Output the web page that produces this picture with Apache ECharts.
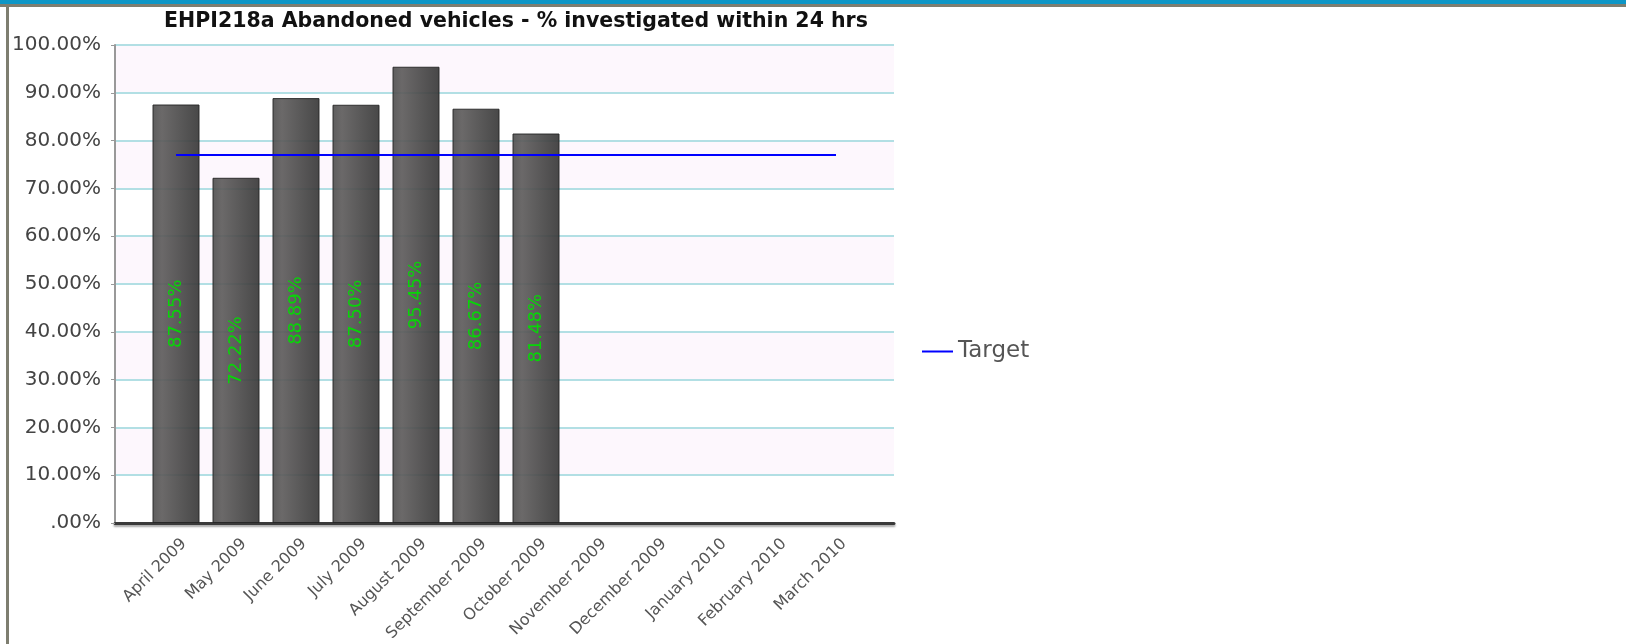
<!DOCTYPE html>
<html>
<head>
<meta charset="utf-8">
<script src="https://cdn.jsdelivr.net/npm/echarts@6/dist/echarts.min.js"></script>
<style>
  html, body { margin: 0; padding: 0; background: #fff; }
  #main { width: 1626px; height: 644px; }
</style>
</head>
<body>
<div id="main"></div>
<script>
// 数据
const months = ['April 2009', 'May 2009', 'June 2009', 'July 2009', 'August 2009', 'September 2009',
  'October 2009', 'November 2009', 'December 2009', 'January 2010', 'February 2010', 'March 2010'];
const actual = [87.55, 72.22, 88.89, 87.50, 95.45, 86.67, 81.48, null, null, null, null, null];
const target = [77, 77, 77, 77, 77, 77, 77, 77, 77, 77, 77, 77];
const yTicks = ['.00%', '10.00%', '20.00%', '30.00%', '40.00%', '50.00%', '60.00%', '70.00%', '80.00%', '90.00%', '100.00%'];

const font = 'DejaVu Sans';
const myChart = echarts.init(document.getElementById('main'));

myChart.setOption({
  animation: false,
  title: {
    text: 'EHPI218a Abandoned vehicles - % investigated within 24 hrs',
    left: 511,
    top: 6,
    textAlign: 'center',
    textStyle: { fontFamily: font, fontWeight: 'bold', fontSize: 20.5, color: '#111' },
  },
  legend: {
    left: 917,
    top: 335,
    itemWidth: 31,
    itemHeight: 2,
    itemGap: 6,
    data: [{ name: 'Target', icon: 'rect' }],
    textStyle: { fontFamily: font, fontSize: 23, color: '#555' },
  },
  graphic: [
    { type: 'rect', shape: { x: 0, y: 0, width: 1626, height: 4 }, style: { fill: '#0d96c6' } },
    { type: 'rect', shape: { x: 0, y: 4, width: 1626, height: 3 }, style: { fill: '#7e7e70' } },
    { type: 'rect', shape: { x: 6, y: 4, width: 3, height: 640 }, style: { fill: '#7e7e70' } },
  ],
  grid: [
    { left: 115, top: 45, width: 779, height: 478 },
    { left: 146, top: 45, width: 720, height: 478 },
    // 标签稍微右移
    { left: 154, top: 45, width: 720, height: 478 },
  ],
  xAxis: [
    {
      gridIndex: 0, type: 'value', min: 0, max: 1,
      axisLine: { show: true, onZero: false, lineStyle: { color: '#3a3a3a', width: 3, shadowColor: 'rgba(0,0,0,0.35)', shadowOffsetY: 2, shadowBlur: 2 } },
      axisTick: { show: false }, axisLabel: { show: false }, splitLine: { show: false },
    },
    {
      gridIndex: 1, type: 'category', data: months,
      axisLine: { show: false }, axisTick: { show: false }, axisLabel: { show: false },
    },
    {
      gridIndex: 2, type: 'category', data: months,
      axisLine: { show: false }, axisTick: { show: false },
      axisLabel: { interval: 0, rotate: 45, margin: 27, fontFamily: font, fontSize: 16, color: '#555' },
    },
  ],
  yAxis: [
    {
      gridIndex: 0, type: 'value', min: 0, max: 100, interval: 10,
      axisLine: { show: true, lineStyle: { color: '#999', width: 2 } },
      axisTick: { show: true, length: 4, lineStyle: { color: '#999', width: 1 } },
      axisLabel: {
        margin: 14, fontFamily: font, fontSize: 20, color: '#444',
        formatter: (v) => yTicks[Math.round(v / 10)],
      },
      splitLine: { show: true, lineStyle: { color: '#b2dfe4', width: 2 } },
      splitArea: { show: true, areaStyle: { color: ['#ffffff', '#fdf7fd'] } },
    },
    { gridIndex: 1, type: 'value', min: 0, max: 100, show: false },
    { gridIndex: 2, type: 'value', min: 0, max: 100, show: false },
  ],
  series: [
    {
      name: 'Actual',
      type: 'bar',
      xAxisIndex: 1,
      yAxisIndex: 1,
      data: actual,
      barWidth: 47,
      itemStyle: {
        opacity: 0.92,
        borderColor: '#262626',
        borderWidth: 1,
        color: new echarts.graphic.LinearGradient(0, 0, 1, 0, [
          { offset: 0, color: '#505050' },
          { offset: 0.2, color: '#5e5c5c' },
          { offset: 1, color: '#383838' },
        ]),
      },
      label: {
        show: true,
        position: 'inside',
        rotate: 90,
        fontFamily: font,
        fontSize: 18,
        color: '#00e000',
        formatter: (p) => p.value.toFixed(2) + '%',
      },
    },
    {
      name: 'Target',
      type: 'line',
      xAxisIndex: 1,
      yAxisIndex: 1,
      data: target,
      symbol: 'none',
      lineStyle: { color: '#0000ff', width: 2 },
      itemStyle: { color: '#0000ff' },
    },
  ],
});
</script>
</body>
</html>
